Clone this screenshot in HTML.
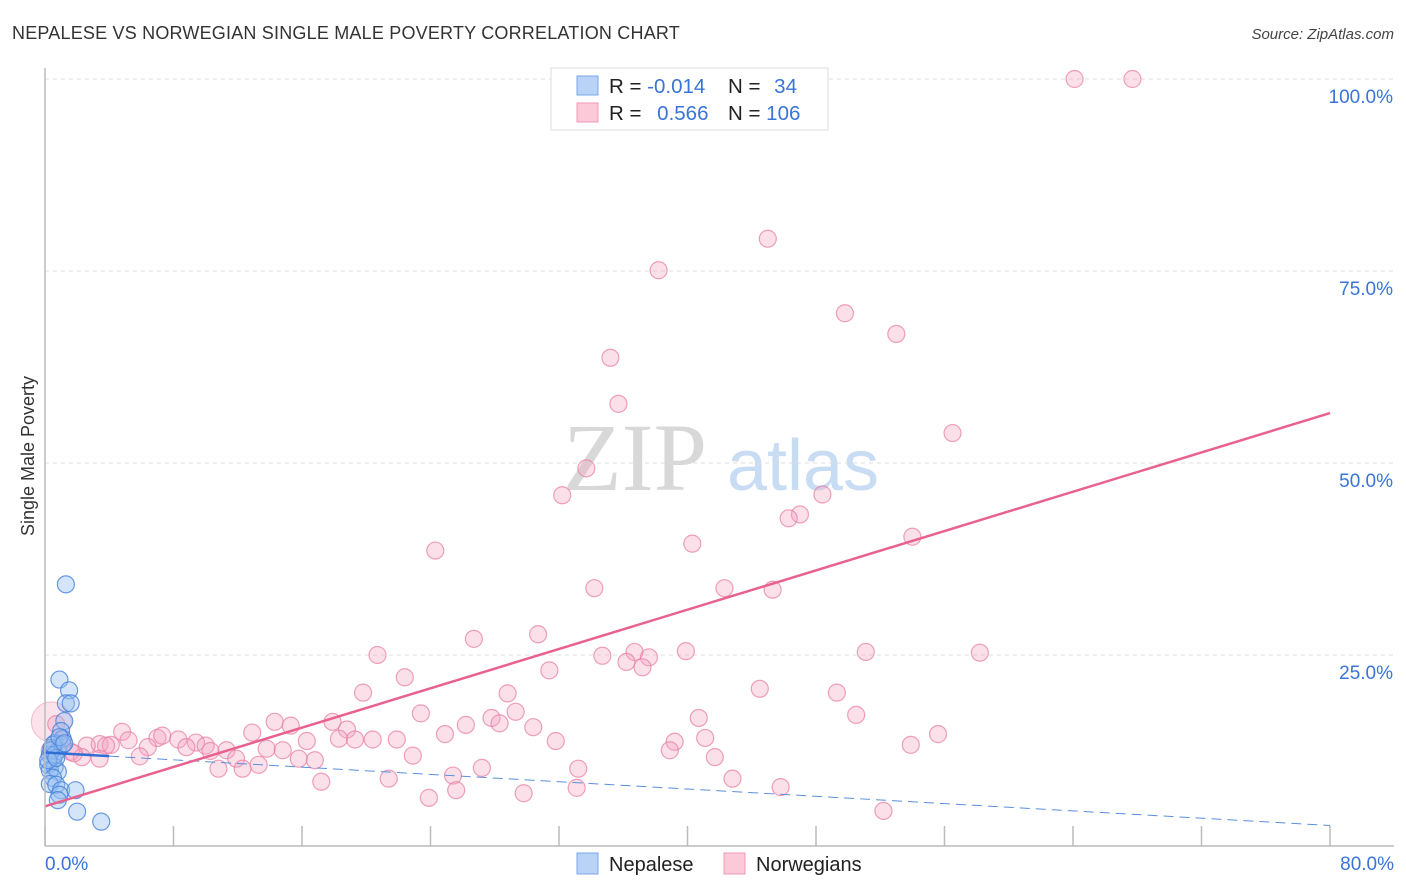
<!DOCTYPE html>
<html><head><meta charset="utf-8"><style>
body{margin:0;background:#fff;font-family:"Liberation Sans",sans-serif}
#wrap{position:relative;width:1406px;height:892px;overflow:hidden}
</style></head><body>
<div id="wrap">
<svg id="svg" width="1406" height="892" xmlns="http://www.w3.org/2000/svg">
<text x="12" y="39" font-size="18" letter-spacing="0.2" fill="#333">NEPALESE VS NORWEGIAN SINGLE MALE POVERTY CORRELATION CHART</text>
<text x="1394" y="39" font-size="15" fill="#444" font-style="italic" text-anchor="end">Source: ZipAtlas.com</text>
<text x="34" y="456" font-size="18" fill="#333" text-anchor="middle" transform="rotate(-90 34 456)">Single Male Poverty</text>
<text x="635" y="490" font-size="96" fill="#d8d8d8" font-family="Liberation Serif,serif" text-anchor="middle">ZIP</text>
<text x="803" y="490" font-size="72" fill="#c8dcf4" text-anchor="middle">atlas</text>
<g id="grid"></g><g id="marks"></g>
<line x1="45" y1="68" x2="45" y2="846" stroke="#bbb" stroke-width="1.5"/>
<line x1="45" y1="846" x2="1394" y2="846" stroke="#bbb" stroke-width="1.5"/>
<text x="45" y="870" font-size="19" fill="#3a74d8">0.0%</text>
<text x="1394" y="870" font-size="19" fill="#3a74d8" text-anchor="end">80.0%</text>
<g>
<rect x="551" y="68" width="277" height="62" fill="#fff" stroke="#ddd"/>
<rect x="577" y="76" width="21" height="19" fill="#b8d3f6" stroke="#7aa7e6"/>
<rect x="577" y="103" width="21" height="19" fill="#fbc9d8" stroke="#f09ab5"/>
<text x="609" y="93" font-size="20.5" fill="#222">R = <tspan fill="#3a74d8">-0.014</tspan></text>
<text x="728" y="93" font-size="20.5" fill="#222">N = <tspan fill="#3a74d8" dx="8">34</tspan></text>
<text x="609" y="120" font-size="20.5" fill="#222">R = <tspan fill="#3a74d8" dx="10">0.566</tspan></text>
<text x="728" y="120" font-size="20.5" fill="#222">N = <tspan fill="#3a74d8">106</tspan></text>
</g>
<g>
<rect x="577" y="853" width="21" height="21" fill="#b8d3f6" stroke="#7aa7e6"/>
<text x="609" y="871" font-size="20" fill="#222">Nepalese</text>
<rect x="724" y="853" width="21" height="21" fill="#fbc9d8" stroke="#f09ab5"/>
<text x="756" y="871" font-size="20" fill="#222">Norwegians</text>
</g>
</svg></div>
<script>
const yTicks=[25,50,75,100];
const xTickVals=[0,8,16,24,32,40,48,56,64,72,80];
const pinkX=[64.1,67.7,45.0,38.2,49.8,53.0,35.2,35.7,56.5,33.7,32.2,48.4,47.0,46.3,24.3,40.3,54.0,34.2,42.3,45.3,26.7,30.7,20.7,22.4,34.7,36.7,36.2,37.6,37.2,39.9,51.1,58.2,31.4,19.8,28.8,44.5,49.3,23.4,27.8,29.3,26.2,28.3,30.4,40.7,50.5,17.9,14.3,15.3,18.8,24.9,12.9,4.8,7.0,7.3,8.3,9.4,5.2,3.4,4.1,2.6,3.8,6.4,8.8,10.0,11.3,13.8,14.8,16.3,18.3,19.3,20.4,21.9,31.8,39.2,41.1,53.9,55.6,38.9,5.9,1.6,2.3,1.8,3.4,10.3,11.9,13.3,15.8,16.8,22.9,41.7,10.8,12.3,17.2,21.4,25.4,27.2,33.2,42.8,45.8,25.6,23.9,29.8,33.1,52.2,0.7,1.1,0.3,0.9];
const pinkY=[100,100,79.2,75.1,69.5,66.8,63.7,57.7,53.9,49.3,45.8,45.9,43.3,42.8,38.6,39.5,40.4,33.7,33.7,33.5,27.1,27.7,25.0,22.1,24.9,25.4,24.1,24.7,23.4,25.5,25.4,25.3,23.0,20.1,20.0,20.6,20.1,17.4,16.8,17.6,15.9,16.1,15.6,16.8,17.2,16.3,16.3,15.8,15.3,14.7,14.9,15.0,14.2,14.5,14.0,13.6,13.9,13.4,13.3,13.2,13.2,13.0,13.0,13.2,12.6,12.8,12.6,13.8,14.1,14.0,14.0,14.0,13.8,13.7,14.2,13.3,14.7,12.6,11.8,12.4,11.7,12.2,11.5,12.5,11.5,10.7,11.5,11.3,11.9,11.7,10.2,10.2,8.5,8.9,9.3,10.3,10.2,8.9,7.8,7.4,6.4,7.0,7.7,4.7,16.0,13.9,12.6,13.3];
const blueX=[1.3,0.9,1.5,1.3,1.6,1.2,1.0,1.1,0.6,0.4,0.8,0.3,0.5,0.2,0.6,0.3,0.8,0.5,0.3,0.7,1.0,0.9,0.8,1.9,2.0,3.5,0.4,0.6,0.2,1.1,0.7,0.5,0.9,1.2];
const blueY=[34.2,21.8,20.4,18.7,18.7,16.4,15.1,14.1,13.5,12.9,12.5,12.0,11.3,10.7,10.4,10.0,9.8,9.0,8.2,8.1,7.4,6.8,6.1,7.4,4.6,3.3,12.6,12.0,11.3,13.3,11.6,13.3,14.3,13.5];
const pinkTrend=[5.3,56.5];
const blueTrend=[12.3,2.8];
const NS="http://www.w3.org/2000/svg";
const X=v=>45+v*16.0625, Y=v=>847-v*7.68;
const grid=document.getElementById('grid'), marks=document.getElementById('marks');
function mk(tag,attrs,parent){const e=document.createElementNS(NS,tag);for(const k in attrs)e.setAttribute(k,attrs[k]);parent.appendChild(e);return e;}
yTicks.forEach(t=>{
 const l=mk('line',{x1:45,x2:1394,y1:Y(t),y2:Y(t),stroke:'#ddd','stroke-dasharray':'4,4'},grid);
 
 
 const tx=mk('text',{x:1393,y:Y(t)+24,'font-size':19,fill:'#3a74d8','text-anchor':'end'},grid);
 tx.textContent=t.toFixed(1)+'%';
 
 
});
xTickVals.forEach(t=>{
 const l=mk('line',{x1:X(t),x2:X(t),y1:826,y2:846,stroke:'#bbb','stroke-width':1.5},grid);
 
 
});
const big=mk('circle',{cx:X(0.4),cy:Y(16.3),r:20,fill:'rgba(244,160,190,0.3)',stroke:'rgba(232,130,165,0.5)'},marks);


pinkX.forEach((x,i)=>{
 const c=mk('circle',{cx:X(x),cy:Y(pinkY[i]),r:8.5,fill:'rgba(244,160,190,0.33)',stroke:'rgba(232,130,165,0.75)','stroke-width':1.2},marks);
 
 
});
blueX.forEach((x,i)=>{
 const c=mk('circle',{cx:X(x),cy:Y(blueY[i]),r:8.5,fill:'rgba(150,190,240,0.4)',stroke:'rgba(70,130,220,0.8)','stroke-width':1.2},marks);
 
 
});
const bt=v=>blueTrend[0]+(blueTrend[1]-blueTrend[0])*v/80;
const bl=mk('line',{x1:X(0),y1:Y(bt(0)),x2:X(4),y2:Y(bt(4)),stroke:'#2f6fd6','stroke-width':2.5},marks);


const bd=mk('line',{x1:X(4),y1:Y(bt(4)),x2:X(80),y2:Y(bt(80)),stroke:'#5a8fdc','stroke-width':1,'stroke-dasharray':'10,6'},marks);


const pl=mk('line',{x1:X(0),y1:Y(pinkTrend[0]),x2:X(80),y2:Y(pinkTrend[1]),stroke:'#e8628e','stroke-width':2.5},marks);


</script>
</body></html>
